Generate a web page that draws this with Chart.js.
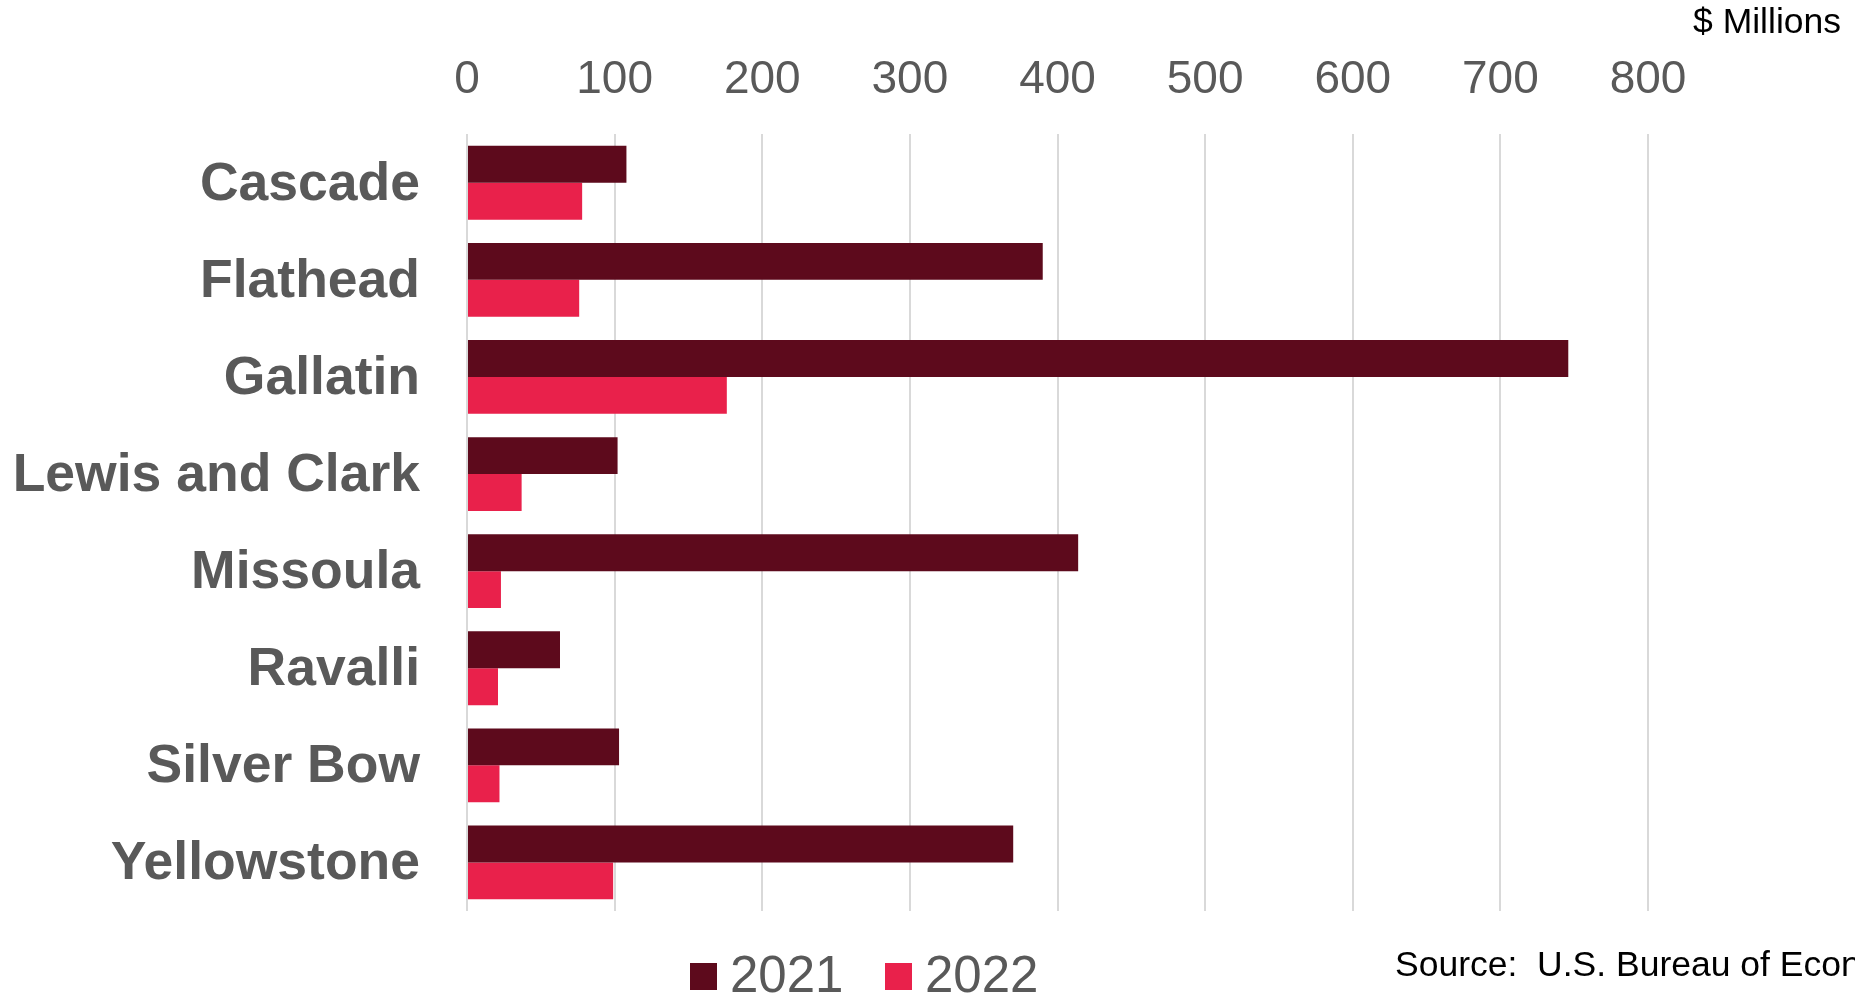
<!DOCTYPE html>
<html>
<head>
<meta charset="utf-8">
<script src="https://cdn.jsdelivr.net/npm/chart.js@4.4.1/dist/chart.umd.min.js"></script>
<style>
  html, body { margin: 0; padding: 0; background: #fff; }
  #wrap { width: 1855px; height: 1000px; position: relative; }
</style>
</head>
<body>
<div id="wrap"><canvas id="chart" width="1855" height="1000"></canvas></div>
<script>
const counties = ['Cascade', 'Flathead', 'Gallatin', 'Lewis and Clark', 'Missoula', 'Ravalli', 'Silver Bow', 'Yellowstone'];
const values2021 = [108, 390, 746, 102, 414, 63, 103, 370];
const values2022 = [78, 76, 176, 37, 23, 21, 22, 99];
const seriesLabels = ['2021', '2022'];
const xTicks = [0, 100, 200, 300, 400, 500, 600, 700, 800];

const gray = '#595959';
const font = 'Liberation Sans, Arial, sans-serif';

// legend + notes drawn by hand so spacing matches the original
const extras = {
    id: 'extras',
    afterDraw(chart) {
        const ctx = chart.ctx;
        ctx.save();
        ctx.textBaseline = 'middle';

        ctx.fillStyle = '#000';
        ctx.font = '35.5px ' + font;
        ctx.textAlign = 'right';
        ctx.fillText('$ Millions', 1841, 23);

        ctx.textAlign = 'left';
        ctx.fillText('Source:  U.S. Bureau of Economic Analysis', 1395, 966);

        const legendX = [690, 885];
        ctx.font = '51px ' + font;
        chart.data.datasets.forEach((ds, i) => {
            ctx.fillStyle = ds.backgroundColor;
            ctx.fillRect(legendX[i], 963, 27, 27);
            ctx.fillStyle = gray;
            ctx.fillText(ds.label, legendX[i] + 40, 978);
        });
        ctx.restore();
    }
};

const ctx = document.getElementById('chart').getContext('2d');
new Chart(ctx, {
    type: 'bar',
    data: {
        labels: counties,
        datasets: [
            { label: seriesLabels[0], data: values2021, backgroundColor: '#5d0a1c' },
            { label: seriesLabels[1], data: values2022, backgroundColor: '#e9214b' }
        ]
    },
    options: {
        indexAxis: 'y',
        responsive: false,
        animation: false,
        layout: { padding: { top: 27, left: 0, right: 207, bottom: 89 } },
        datasets: { bar: { categoryPercentage: 0.76, barPercentage: 1.0 } },
        plugins: {
            legend: { display: false },
            tooltip: { enabled: false }
        },
        scales: {
            x: {
                position: 'top',
                min: 0,
                max: 800,
                afterBuildTicks: scale => { scale.ticks = xTicks.map(v => ({ value: v })); },
                ticks: { color: gray, font: { family: font, size: 46 }, padding: 26 },
                grid: { color: '#d9d9d9', lineWidth: 2, drawTicks: false },
                border: { display: false }
            },
            y: {
                afterFit: scale => { scale.width = 467; },
                ticks: { color: gray, font: { family: font, size: 53.5, weight: 'bold' }, padding: 47, labelOffset: 2 },
                grid: { display: false, drawTicks: false },
                border: { display: false }
            }
        }
    },
    plugins: [extras]
});
</script>
</body>
</html>
